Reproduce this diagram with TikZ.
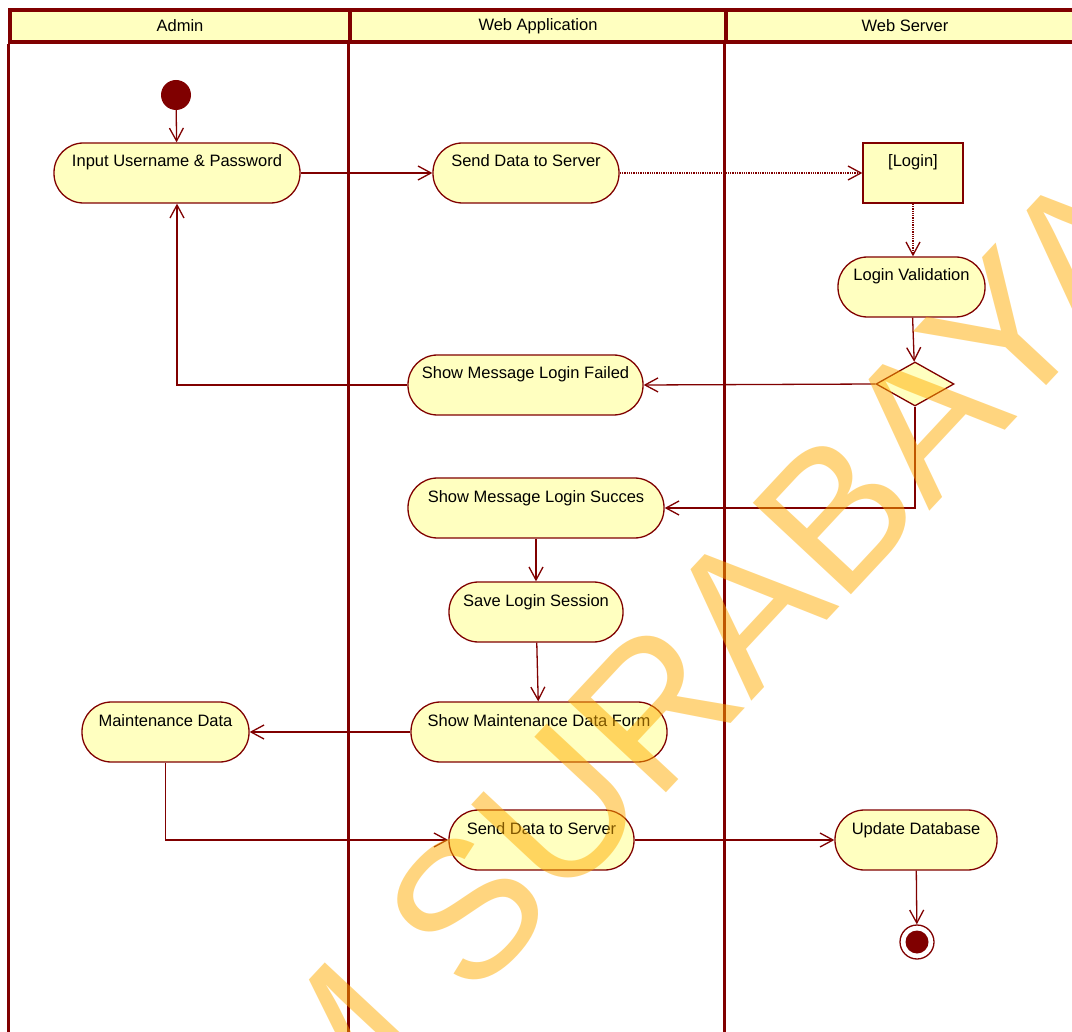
\documentclass[tikz,border=0pt]{standalone}
\usepackage{fontspec}
\setmainfont{Liberation Sans}
\usepackage{tikz}
\usetikzlibrary{shapes.geometric, arrows.meta, calc}
\def\actheight{60pt}
\definecolor{umlline}{RGB}{128, 0, 0}
\definecolor{umlfill}{RGB}{255, 255, 192}
\definecolor{stamp}{RGB}{255, 173, 0}
\tikzstyle{arrow} = [draw=umlline, -{Straight Barb[length=13pt, width=14pt]}, line width=1.3pt]
\tikzstyle{dotarrow} = [arrow, densely dotted]
\tikzstyle{lane} = [draw=umlline, line width=3.5pt]
\tikzstyle{lanehead} = [lane, fill=umlfill, rectangle, minimum height=32pt, inner sep=0,
  font=\fontsize{16.5pt}{16.5pt}\selectfont]
\newcommand{\tikzactnode}[1]{\node[
  draw=umlline, fill=umlfill, line width=1.3pt, rectangle, rounded corners=29.5pt,
  minimum width=#1, minimum height=\actheight, inner xsep=2pt, text height=12pt, text depth=24pt,
  font=\fontsize{16.5pt}{16.5pt}\selectfont
]}
\newcommand{\tikzguardnode}[1]{\node[
  draw=umlline, fill=umlfill, line width=1.3pt, rectangle,
  minimum width=#1, minimum height=\actheight, inner xsep=2pt, text height=12pt, text depth=24pt,
  font=\fontsize{16.5pt}{16.5pt}\selectfont
]}

\begin{document}
\begin{tikzpicture}[x=1pt, y=-1pt]
    \useasboundingbox (0, 0) rectangle (1072, 1032);
    \clip (0, 0) rectangle (1072, 1032);
    \fill[white] (0, 0) rectangle (1072, 1032);

    % swimlanes
    \node[lanehead, minimum width=340pt] (admin)  at (180, 26) {Admin};
    \node[lanehead, minimum width=376pt] (webapp) at (538, 26) {Web Application};
    \node[lanehead, minimum width=358pt] (websrv) at (905, 26) {Web Server};
    \draw[lane] (admin.south west)  -- (admin.south west |- 0, 1040);
    \draw[lane] (webapp.south west) -- (webapp.south west |- 0, 1040);
    \draw[lane] (websrv.south west) -- (websrv.south west |- 0, 1040);

    % nodes
    \node[circle, fill=umlline, minimum size=30pt, inner sep=0] (start) at (176, 95) {};
    \tikzactnode{246pt}   at (177, 173)   (input)    {Input Username \& Password};
    \tikzactnode{186pt}   at (526, 173)   (send1)    {Send Data to Server};
    \tikzguardnode{100pt} at (913, 173)   (login)    {[Login]};
    \tikzactnode{147pt}   at (911.5, 287) (valid)    {Login Validation};
    \node[diamond, draw=umlline, fill=umlfill, line width=1.3pt, aspect=1.77,
      minimum width=78pt, minimum height=44pt, inner sep=0] (dec) at (915, 384) {};
    \tikzactnode{235pt}   at (525.5, 385) (failed)   {Show Message Login Failed};
    \tikzactnode{256pt}   at (536, 508)   (succ)     {Show Message Login Succes};
    \tikzactnode{174pt}   at (536, 612)   (save)     {Save Login Session};
    \tikzactnode{256pt}   at (539, 732)   (showform) {Show Maintenance Data Form};
    \tikzactnode{167pt}   at (165.5, 732) (maint)    {Maintenance Data};
    \tikzactnode{185pt}   at (541.5, 840) (send2)    {Send Data to Server};
    \tikzactnode{162pt}   at (916, 840)   (update)   {Update Database};
    \node[circle, draw=umlline, fill=white, line width=1.3pt, minimum size=34pt, inner sep=0,
      path picture={\fill[umlline] (path picture bounding box.center) circle (11.5pt);}] (end) at (917, 942) {};

    % arrows
    \draw[arrow]    (start)       -- (input);
    \draw[arrow]    (input)       -- (send1);
    \draw[dotarrow] (send1)       -- (login);
    \draw[dotarrow] (login.south) -- (login.south |- valid.north);
    \draw[arrow]    (valid)       -- (dec);
    \draw[arrow]    (dec.west)    -- (failed.east);
    \draw[arrow]    (failed.west) -| (input.south);
    \draw[arrow]    (dec.south)   |- (succ.east);
    \draw[arrow]    (succ)        -- (save);
    \draw[arrow]    (save)        -- (showform);
    \draw[arrow]    (showform)    -- (maint);
    \draw[arrow]    (maint.south) |- (send2.west);
    \draw[arrow]    (send2)       -- (update);
    \draw[arrow]    (update)      -- (end);

    % watermark
    \node[rotate=47, anchor=base west, inner sep=0, text=stamp, text opacity=0.5,
      font=\fontsize{195pt}{195pt}\selectfont] (stamp) at (471, 1003) {\llap{STIKOM }SURABAYA};
\end{tikzpicture}
\end{document}
